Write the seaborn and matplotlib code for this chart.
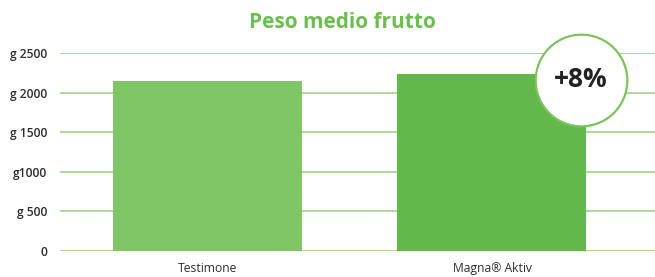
import matplotlib
matplotlib.use("Agg")
import matplotlib.pyplot as plt
import seaborn as sns
import pandas as pd

categories = ["Testimone", "Magna® Aktiv"]
values = [2150, 2230]
bar_colors = ["#80c566", "#62b84a"]
yticks = [0, 500, 1000, 1500, 2000, 2500]
ytick_labels = ["0", "g 500", "g1000", "g 1500", "g 2000", "g 2500"]
title = "Peso medio frutto"
badge = "+8%"

sns.set_theme(style="white")
plt.rcParams["font.family"] = ["Open Sans", "DejaVu Sans"]

df = pd.DataFrame({"cat": categories, "val": values})

W, H = 655, 277
fig = plt.figure(figsize=(W / 100, H / 100), dpi=100)
ax = fig.add_axes([60 / W, (H - 251) / H, 595 / W, (251 - 53) / H])

sns.barplot(data=df, x="cat", y="val", hue="cat", palette=bar_colors,
            width=0.664, legend=False, ax=ax, zorder=2, saturation=1,
            linewidth=0, edgecolor="none")

ax.set_ylim(0, 2500)
ax.set_xlim(-0.518, 1.573)
ax.set_yticks(yticks)
ax.set_yticklabels(ytick_labels)
ax.yaxis.grid(True, color="#afd89a", linewidth=1.4, zorder=0)
ax.set_axisbelow(True)
for s in ax.spines.values():
    s.set_visible(False)
ax.tick_params(axis="y", length=0, pad=9, labelsize=8.7, labelcolor="#2e2e2e")
ax.tick_params(axis="x", length=0, pad=8, labelsize=8.7, labelcolor="#2e2e2e")
for lab in ax.get_yticklabels():
    lab.set_fontweight("semibold")
ax.set_xlabel("")
ax.set_ylabel("")

# badge circle
ax.scatter([1.313], [2160], s=66 ** 2, marker="o", facecolor="white",
           edgecolor="#7cc35f", linewidth=1.6, zorder=5, clip_on=False)
ax.text(1.313, 2160, badge, ha="center", va="center", fontsize=19,
        fontweight="bold", color="#222222", zorder=6)

fig.text(342 / W, 1 - 22 / H, title, ha="center", va="center", fontsize=15,
         fontweight="bold", color="#6cbf4f")

fig.savefig("out.png", dpi=100)
